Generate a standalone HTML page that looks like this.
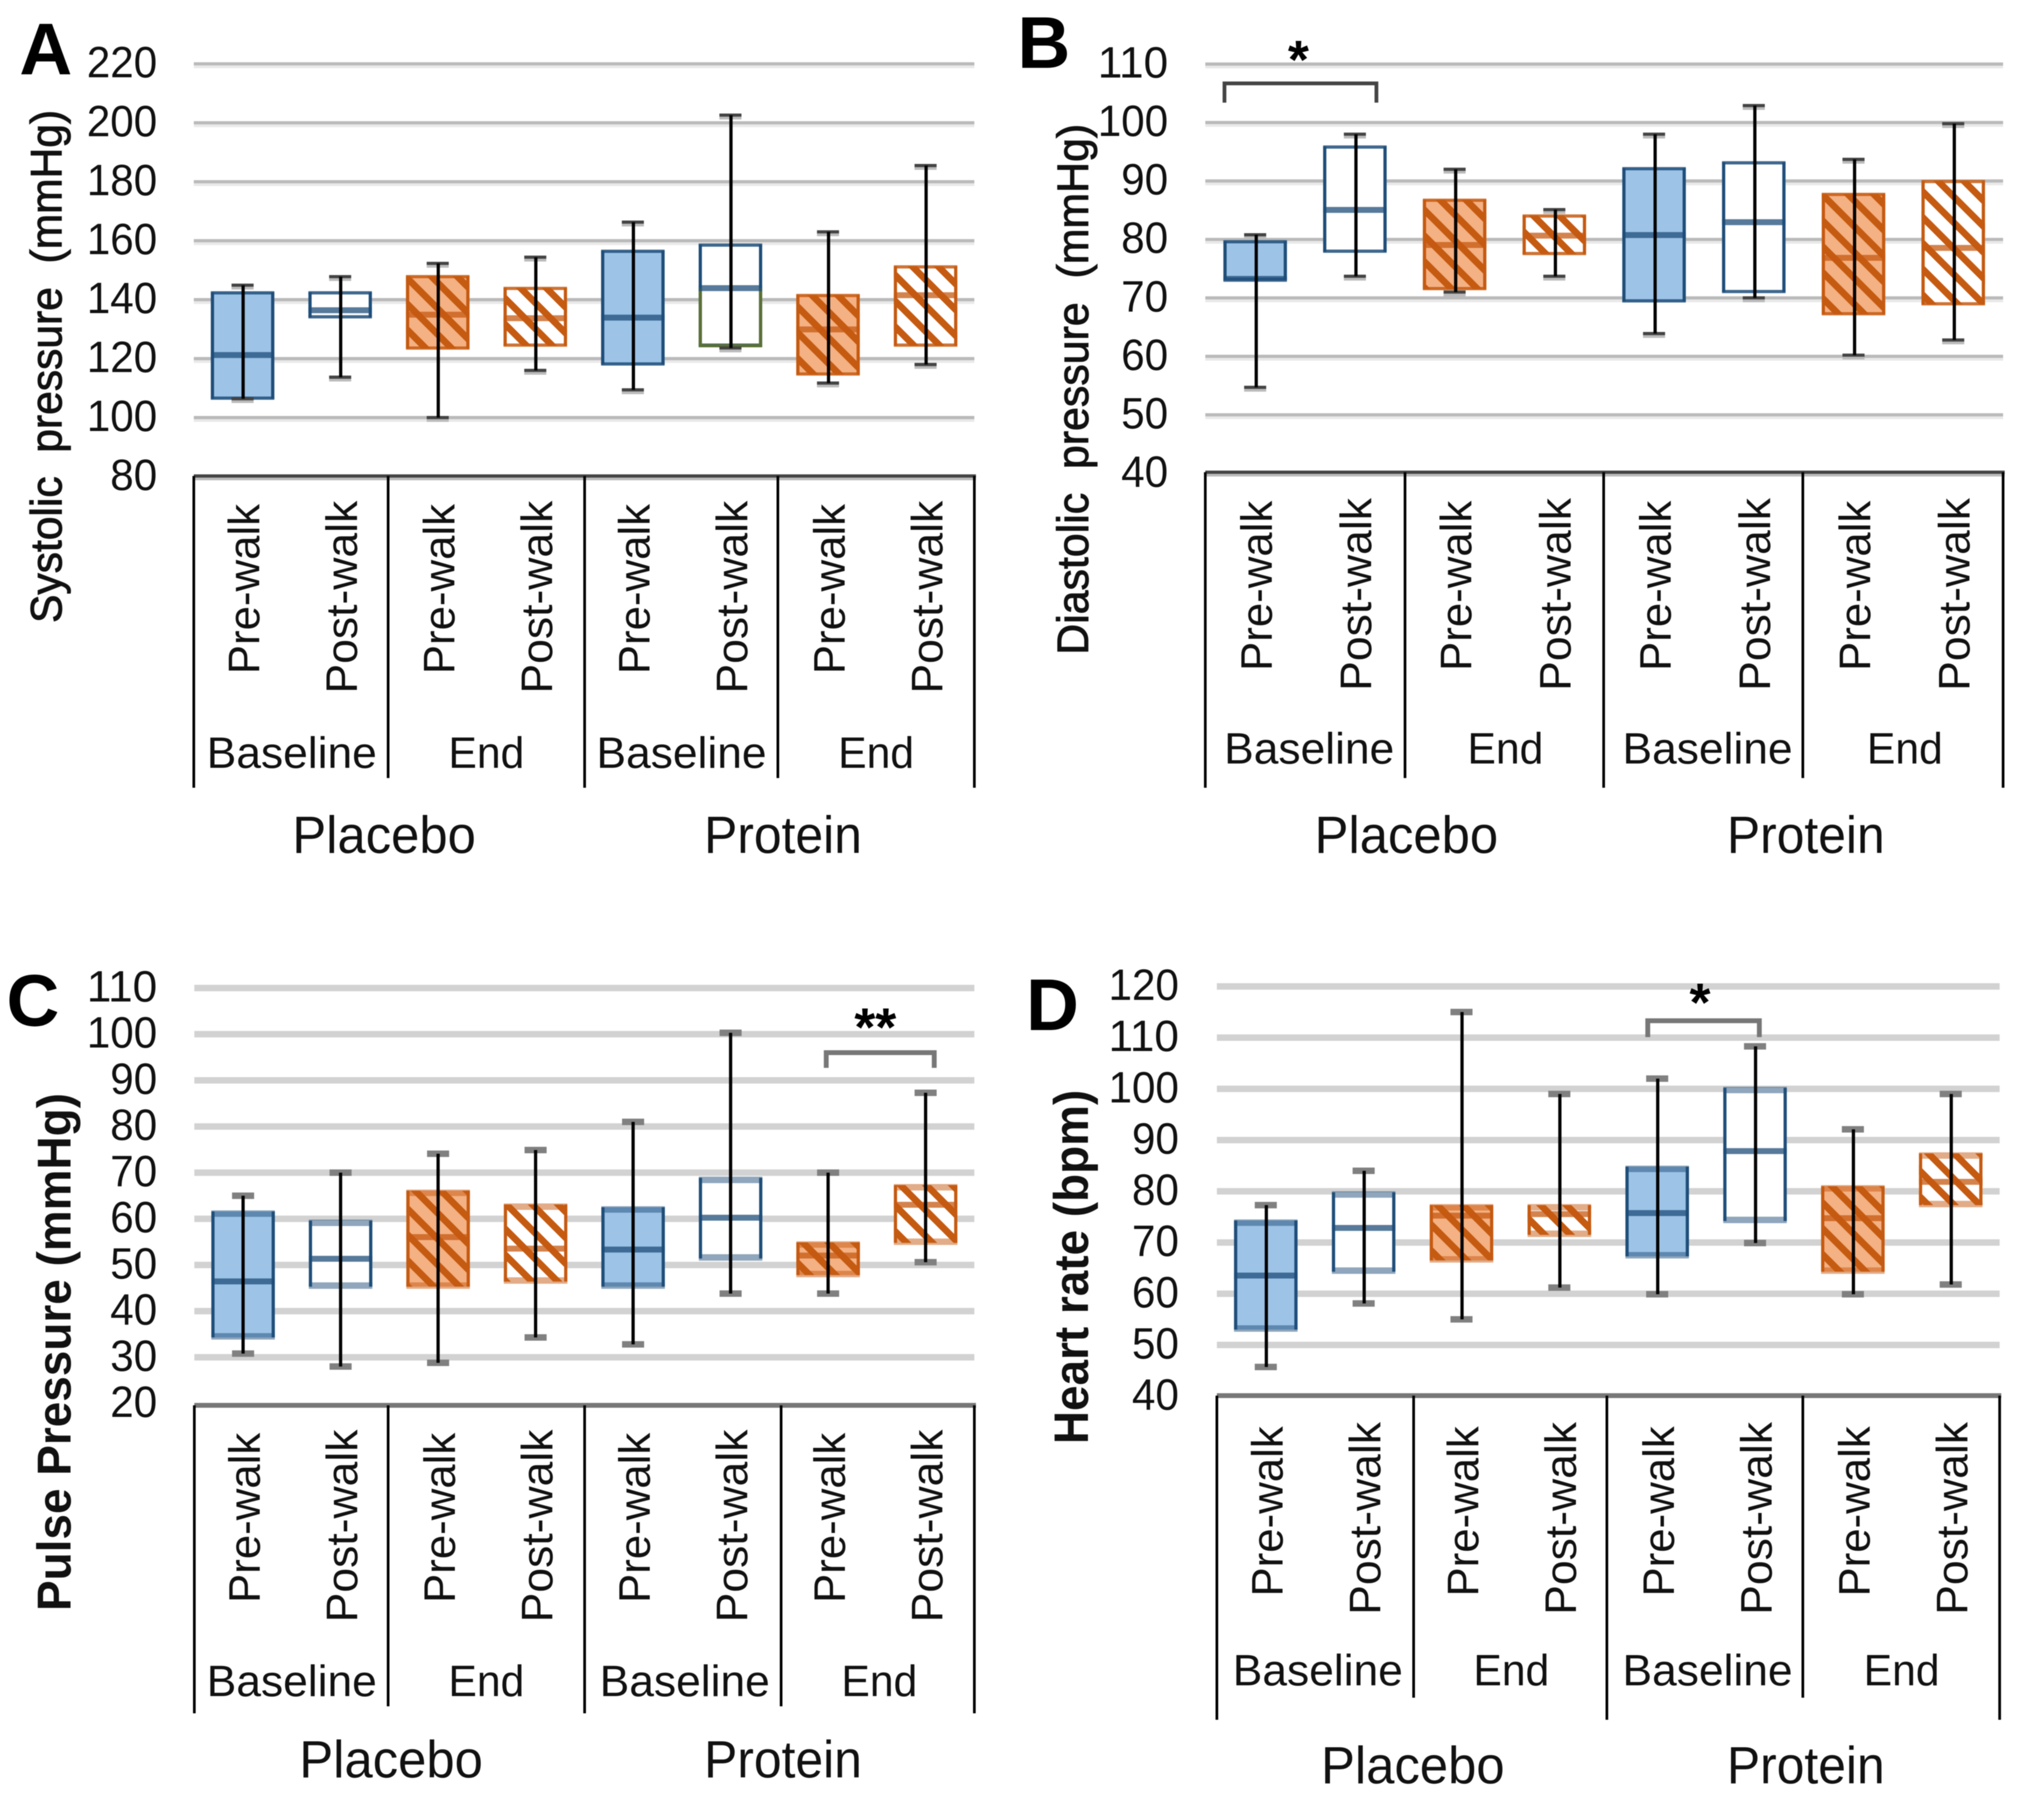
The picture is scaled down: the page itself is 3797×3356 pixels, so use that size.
<!DOCTYPE html>
<html lang="en">
<head>
<meta charset="utf-8">
<title>Blood pressure and heart rate box plots</title>
<style>
html,body{margin:0;padding:0;background:#fff;}
svg{display:block;font-family:"Liberation Sans",Arial,sans-serif;filter:blur(0.9px);}
text{white-space:pre;}
</style>
</head>
<body>
<svg id="figure" xmlns="http://www.w3.org/2000/svg" width="3797" height="3356" viewBox="0 0 3797 3356">
<defs>
<pattern id="hatch-orange" patternUnits="userSpaceOnUse" width="48" height="48">
<rect width="48" height="48" fill="#f4b183"/>
<path d="M-10,-10 L58,58 M-10,38 L10,58 M38,-10 L58,10" stroke="#c55a11" stroke-width="12.5" fill="none"/>
</pattern>
<pattern id="hatch-white" patternUnits="userSpaceOnUse" width="48" height="48">
<rect width="48" height="48" fill="#ffffff"/>
<path d="M-10,-10 L58,58 M-10,38 L10,58 M38,-10 L58,10" stroke="#c55a11" stroke-width="12.5" fill="none"/>
</pattern>
</defs>
<rect width="3797" height="3356" fill="#ffffff"/>
<g id="panel-a"></g>
<g id="panel-b"></g>
<g id="panel-c"></g>
<g id="panel-d"></g>
</svg>
<script>
// Shared category labels
const conditions = ["Pre-walk", "Post-walk", "Pre-walk", "Post-walk", "Pre-walk", "Post-walk", "Pre-walk", "Post-walk"];
const timepoints = ["Baseline", "End", "Baseline", "End"];
const treatments = ["Placebo", "Protein"];

// Panel A: systolic pressure (mmHg)
const systolicTicks = [80, 100, 120, 140, 160, 180, 200, 220];
const systolicHigh = [144.9, 147.8, 152.3, 154.4, 166.3, 202.6, 163, 185.5];
const systolicQ3 = [142.5, 142.5, 148, 144, 156.6, 158.7, 141.6, 151.3];
const systolicMedian = [121.3, 136.5, 135, 133.8, 134, 144, 130, 141.6];
const systolicQ1 = [106.4, 134, 123.4, 124.4, 118, 124.4, 114.6, 124.4];
const systolicLow = [106.4, 113.7, 100, 116, 109.4, 123.6, 111.7, 118];

// Panel B: diastolic pressure (mmHg)
const diastolicTicks = [40, 50, 60, 70, 80, 90, 100, 110];
const diastolicHigh = [80.8, 98, 92, 85.1, 98, 102.9, 93.7, 99.8];
const diastolicQ3 = [79.7, 95.9, 86.8, 84.1, 92.2, 93.2, 87.8, 90];
const diastolicMedian = [73.3, 85.1, 79.1, 80.7, 80.8, 83, 76.9, 78.6];
const diastolicQ1 = [73.1, 77.9, 71.5, 77.5, 69.4, 71, 67.2, 68.9];
const diastolicLow = [54.7, 73.7, 71, 73.7, 63.9, 70, 60.2, 62.8];

// Panel C: pulse pressure (mmHg)
const pulseTicks = [20, 30, 40, 50, 60, 70, 80, 90, 100, 110];
const pulseHigh = [65, 70, 74.1, 74.9, 81, 100.3, 70, 87.3];
const pulseQ3 = [61.6, 59.6, 66.1, 63.1, 62.5, 68.9, 54.9, 67.3];
const pulseMedian = [46.5, 51.4, 56.1, 53.6, 53.4, 60.3, 52.1, 63.1];
const pulseQ1 = [34.3, 45.3, 45.3, 46.4, 45.3, 51.4, 47.8, 54.8];
const pulseLow = [30.8, 28, 28.8, 34.3, 32.8, 43.8, 43.8, 50.6];

// Panel D: heart rate (bpm)
const heartTicks = [40, 50, 60, 70, 80, 90, 100, 110, 120];
const heartHigh = [77.3, 84, 115, 99, 102, 108.3, 92.1, 99];
const heartQ3 = [74.3, 79.8, 77.3, 77.3, 84.8, 100.2, 81, 87.4];
const heartMedian = [63.6, 72.9, 75.3, 75.6, 75.8, 87.9, 74.8, 81.9];
const heartQ1 = [53, 64.3, 66.5, 71.5, 67.3, 74.2, 64.3, 77.3];
const heartLow = [45.7, 58.1, 55, 61.2, 59.9, 69.9, 59.9, 61.8];

const SVGNS = "http://www.w3.org/2000/svg";
function make(tag, attrs, parent) {
  const n = document.createElementNS(SVGNS, tag);
  for (const k in attrs) n.setAttribute(k, attrs[k]);
  parent.appendChild(n);
  return n;
}

function drawPanel(p) {
  const root = document.getElementById(p.id);
  const yOf = v => p.yBottom - (v - p.ticks[0]) * (p.yBottom - p.yTop) / (p.ticks[p.ticks.length - 1] - p.ticks[0]);
  const bandW = (p.xRight - p.xLeft) / conditions.length;
  const xOf = i => p.xLeft + (i + 0.5) * bandW;
  const soft = p.soft;

  // gridlines and tick labels
  p.ticks.forEach((t, i) => {
    const y = yOf(t);
    if (i > 0) {
      if (soft) {
        const g = make("rect", {x: p.xLeft, y: y - 6, width: p.xRight - p.xLeft, height: 12, fill: "#d2d2d2"}, root);
        
        
      } else {
        const g = make("rect", {x: p.xLeft, y: y - 3, width: p.xRight - p.xLeft, height: 6, fill: "#bababa"}, root);
        
        
        const s = make("rect", {x: p.xLeft, y: y + 3, width: p.xRight - p.xLeft, height: 5, fill: "#e9e9e9"}, root);
        
        
      }
    }
    const label = String(t);
    const tx = make("text", {x: p.tickRight, y: y - 4 + 29, "text-anchor": "end", "font-size": 82, fill: "#111", textLength: label.length * 43.6, lengthAdjust: "spacingAndGlyphs"}, root);
    tx.textContent = label;
    
    
  });

  // boxes
  conditions.forEach((c, i) => {
    const cx = xOf(i);
    const blue = i % 4 < 2;
    const filled = i % 2 === 0;
    const edge = blue ? "#1f4e79" : "#c55a11";
    const fill = blue ? (filled ? "#9dc3e6" : "#ffffff") : (filled ? "url(#hatch-orange)" : "url(#hatch-white)");
    const bw = 118;
    const left = cx - bw / 2;
    const top = yOf(p.q3[i]);
    const bottom = yOf(p.q1[i]);
    const med = yOf(p.median[i]);

    const box = make("rect", {x: left, y: top, width: bw, height: bottom - top, fill: fill}, root);
    
    

    const sideL = make("rect", {x: left, y: top, width: 6, height: bottom - top, fill: edge}, root);
    
    
    const sideR = make("rect", {x: left + bw - 6, y: top, width: 6, height: bottom - top, fill: edge}, root);
    
    

    const edgeH = soft ? 12 : 6;
    const edgeOp = soft ? 0.5 : 0.85;
    [top - 2, bottom - (soft ? 8 : 4)].forEach(ey => {
      const e = make("rect", {x: left, y: ey, width: bw, height: edgeH, fill: edge, opacity: edgeOp}, root);
      
      
    });

    // the lower half of one box is outlined in olive green in the source figure
    if (p.oliveBox === i) {
      const olive = make("path", {d: "M" + (left + 3) + "," + med + " V" + (bottom) + " H" + (left + bw - 3) + " V" + med, fill: "none", stroke: "#5a7035", "stroke-width": 6}, root);
      
      
    }

    const m = make("rect", {x: left, y: med - 5, width: bw, height: 11, fill: edge, opacity: 0.75}, root);
    
    

    // whisker
    const yHi = yOf(p.high[i]);
    const yLo = yOf(p.low[i]);
    const capColor = soft ? "#808080" : "#444444";
    [yHi, yLo].forEach(cy => {
      const cap = make("rect", {x: cx - 20.5, y: cy - (soft ? 6 : 3), width: 41, height: soft ? 12 : 6, fill: capColor}, root);
      
      
      if (!soft) {
        const capShade = make("rect", {x: cx - 20.5, y: cy + 3, width: 41, height: 5, fill: "#bbbbbb"}, root);
        
        
      }
    });
    const w = make("rect", {x: cx - 3 + p.whiskerShift, y: yHi, width: 6, height: yLo - yHi, fill: "#000"}, root);
    
    

    // rotated condition label
    const pre = i % 2 === 0;
    const bx = cx + (pre ? p.preShift : p.postShift);
    const by = pre ? p.preStart : p.postStart;
    const lab = make("text", {x: 0, y: 0, transform: "translate(" + bx + "," + by + ") rotate(-90)", "font-size": 82, fill: "#111", textLength: pre ? p.preLen : p.postLen, lengthAdjust: "spacingAndGlyphs"}, root);
    lab.textContent = c;
    
    
  });

  // axis baseline and group separators
  const axisH = soft ? 9 : 6;
  const axis = make("rect", {x: p.xLeft, y: p.axisY - axisH / 2, width: p.xRight - p.xLeft + 3, height: axisH, fill: soft ? "#777777" : "#444444"}, root);
  
  
  if (!soft) {
    const axisS = make("rect", {x: p.xLeft, y: p.axisY + 3, width: p.xRight - p.xLeft + 3, height: 5, fill: "#bbbbbb"}, root);
    
    
  }
  p.seps.forEach((sx, i) => {
    const tall = i % 2 === 0;
    const s = make("rect", {x: sx - 2.5, y: p.axisY, width: 5, height: (tall ? p.tallBottom : p.shortBottom) - p.axisY, fill: "#000"}, root);
    
    
  });

  // timepoint labels
  timepoints.forEach((tp, i) => {
    const t = make("text", {x: p.tpX[i], y: p.tpY, "font-size": 82, fill: "#111", textLength: i % 2 === 0 ? 316 : 141, lengthAdjust: "spacingAndGlyphs"}, root);
    t.textContent = tp;
    
    
  });

  // treatment labels
  treatments.forEach((tr, i) => {
    const t = make("text", {x: p.trX[i], y: p.trY, "font-size": 97, fill: "#111", textLength: i === 0 ? 341 : 293, lengthAdjust: "spacingAndGlyphs"}, root);
    t.textContent = tr;
    
    
  });

  // y axis title
  const title = make("text", {x: 0, y: 0, transform: "translate(" + p.titleX + "," + p.titleStart + ") rotate(-90)", "font-size": p.titleSize, "font-weight": p.titleBold ? 700 : 400, fill: "#111", stroke: p.titleBold ? "none" : "#111", "stroke-width": p.titleBold ? 0 : 1.6, textLength: p.titleLen, lengthAdjust: "spacingAndGlyphs"}, root);
  title.textContent = p.title;
  
  

  // panel letter
  const letter = make("text", {x: p.letterX, y: p.letterY, "font-size": 136, "font-weight": 700, fill: "#000"}, root);
  letter.textContent = p.letter;
  
  

  // significance bracket
  if (p.bracket) {
    const b = p.bracket;
    const x1 = xOf(b.from) + b.dx1;
    const x2 = xOf(b.to) + b.dx2;
    const yT = yOf(b.top);
    const yB = yOf(b.foot);
    const br = make("path", {d: "M" + x1 + "," + yB + " L" + x1 + "," + yT + " L" + x2 + "," + yT + " L" + x2 + "," + yB, fill: "none", stroke: soft ? "#777777" : "#444444", "stroke-width": soft ? 9 : 7}, root);
    
    
    const st = make("text", {x: b.starX, y: b.starY, "text-anchor": "middle", "font-size": 100, "font-weight": 700, fill: "#000"}, root);
    st.textContent = b.stars;
    
    
  }
}

drawPanel({
  id: "panel-a", letter: "A", letterX: 36, letterY: 138,
  title: "Systolic\u00a0 pressure\u00a0 (mmHg)", titleX: 114, titleStart: 1157, titleLen: 953, titleSize: 82, titleBold: false,
  ticks: systolicTicks, high: systolicHigh, q3: systolicQ3, median: systolicMedian, q1: systolicQ1, low: systolicLow,
  xLeft: 360, xRight: 1810, yTop: 118.6, yBottom: 885, axisY: 884, tickRight: 292, soft: false, whiskerShift: 1, oliveBox: 5,
  seps: [360, 721, 1086, 1445, 1810], tallBottom: 1463, shortBottom: 1445,
  preShift: 31, postShift: 31, preStart: 1252, postStart: 1288, preLen: 316, postLen: 358,
  tpX: [384, 833, 1108, 1557], tpY: 1426, trX: [543, 1308], trY: 1584
});
drawPanel({
  id: "panel-b", letter: "B", letterX: 1890, letterY: 126,
  title: "Diastolic\u00a0 pressure\u00a0 (mmHg)", titleX: 2021, titleStart: 1216, titleLen: 986, titleSize: 82, titleBold: false,
  ticks: diastolicTicks, high: diastolicHigh, q3: diastolicQ3, median: diastolicMedian, q1: diastolicQ1, low: diastolicLow,
  xLeft: 2239, xRight: 3721, yTop: 119, yBottom: 879, axisY: 877, tickRight: 2170, soft: false, whiskerShift: 2,
  seps: [2239, 2610, 2979, 3349, 3721], tallBottom: 1463, shortBottom: 1445,
  preShift: 31, postShift: 30, preStart: 1246, postStart: 1283, preLen: 316, postLen: 358,
  tpX: [2274, 2726, 3014, 3468], tpY: 1418, trX: [2442, 3208], trY: 1584,
  bracket: {from: 0, to: 1, dx1: -57, dx2: 40, top: 106.7, foot: 103.4, stars: "*", starX: 2412, starY: 145}
});
drawPanel({
  id: "panel-c", letter: "C", letterX: 12, letterY: 1905,
  title: "Pulse Pressure (mmHg)", titleX: 131, titleStart: 2992, titleLen: 962, titleSize: 88, titleBold: true,
  ticks: pulseTicks, high: pulseHigh, q3: pulseQ3, median: pulseMedian, q1: pulseQ1, low: pulseLow,
  xLeft: 361, xRight: 1810, yTop: 1835, yBottom: 2606.5, axisY: 2610, tickRight: 292, soft: true, whiskerShift: 0,
  seps: [361, 721, 1086, 1451, 1810], tallBottom: 3182, shortBottom: 3169,
  preShift: 31, postShift: 31, preStart: 2977, postStart: 3013, preLen: 316, postLen: 358,
  tpX: [384, 833, 1114, 1563], tpY: 3150, trX: [556, 1308], trY: 3301,
  bracket: {from: 6, to: 7, dx1: -3.5, dx2: 16, top: 96, foot: 92.7, stars: "**", starX: 1626, starY: 1942}
});
drawPanel({
  id: "panel-d", letter: "D", letterX: 1906, letterY: 1913,
  title: "Heart rate (bpm)", titleX: 2021, titleStart: 2682, titleLen: 658, titleSize: 90, titleBold: true,
  ticks: heartTicks, high: heartHigh, q3: heartQ3, median: heartMedian, q1: heartQ1, low: heartLow,
  xLeft: 2260.5, xRight: 3714.6, yTop: 1832, yBottom: 2593, axisY: 2592, tickRight: 2190, soft: true, whiskerShift: 1,
  seps: [2260.5, 2626, 2985, 3349, 3714.6], tallBottom: 3194, shortBottom: 3153,
  preShift: 31, postShift: 31, preStart: 2965, postStart: 2999, preLen: 316, postLen: 358,
  tpX: [2290, 2737, 3014, 3462], tpY: 3130, trX: [2454, 3208], trY: 3312,
  bracket: {from: 4, to: 5, dx1: -17.5, dx2: 8, top: 113.3, foot: 110.1, stars: "*", starX: 3158, starY: 1896}
});
</script>
</body>
</html>
